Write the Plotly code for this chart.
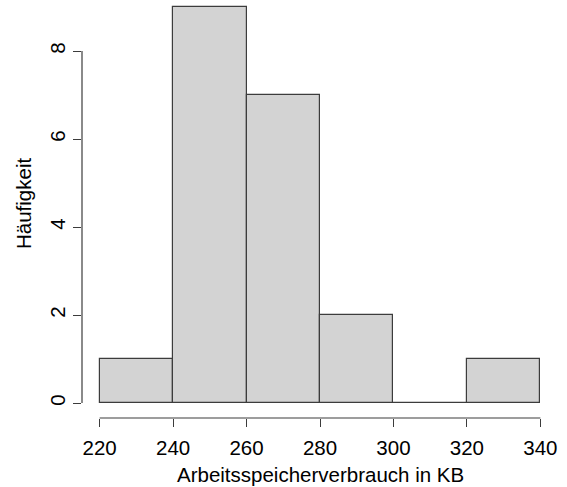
import plotly.graph_objects as go

bin_starts = [220, 240, 260, 280, 300, 320]
bin_width = 20
counts = [1, 9, 7, 2, 0, 1]
x_ticks = [220, 240, 260, 280, 300, 320, 340]
y_ticks = [0, 2, 4, 6, 8]
x_title = "Arbeitsspeicherverbrauch in KB"
y_title = "Häufigkeit"

centers = [b + bin_width / 2 for b in bin_starts]

FONT = "Liberation Sans, Arial, sans-serif"
FS = 20.5
LINE = "#3c3c3c"
L, R = 82, 9
PW = 567 - L - R

fig = go.Figure()
fig.add_trace(go.Bar(
    x=centers, y=counts, width=[bin_width] * len(counts),
    marker=dict(color="#D3D3D3", line=dict(color=LINE, width=1.2)),
    hoverinfo="skip",
))

fig.update_layout(
    width=567, height=487,
    margin=dict(l=L, r=R, t=0, b=69),
    plot_bgcolor="white", paper_bgcolor="white",
    showlegend=False,
    bargap=0,
    font=dict(family=FONT, size=FS, color="black"),
    xaxis=dict(
        range=[215.2, 344.8], automargin=False,
        tickmode="array", tickvals=x_ticks, ticktext=[str(v) for v in x_ticks],
        ticks="outside", ticklen=8, tickcolor=LINE, tickwidth=1.2,
        showline=False, showgrid=False, zeroline=False,
        ticklabelstandoff=3,
    ),
    yaxis=dict(
        range=[-0.341, 9.159], automargin=False,
        tickmode="array", tickvals=y_ticks, ticktext=[str(v) for v in y_ticks],
        tickangle=-90,
        ticks="outside", ticklen=8, tickcolor=LINE, tickwidth=1.2,
        showline=False, showgrid=False, zeroline=False,
    ),
    shapes=[
        dict(type="line", xref="x", yref="paper", x0=x_ticks[0], x1=x_ticks[-1], y0=0, y1=0,
             line=dict(color=LINE, width=1.2)),
        dict(type="line", xref="paper", yref="y", x0=0, x1=0, y0=y_ticks[0], y1=y_ticks[-1],
             line=dict(color=LINE, width=1.2)),
    ],
    annotations=[
        dict(text=x_title, xref="paper", yref="paper", x=(320 - L) / PW, y=(418 - 475) / 418,
             xanchor="center", yanchor="middle", showarrow=False, font=dict(size=FS)),
        dict(text=y_title, xref="paper", yref="paper", x=(23 - L) / PW, y=(418 - 204) / 418,
             xanchor="center", yanchor="middle", textangle=-90, showarrow=False, font=dict(size=FS)),
    ],
)

fig.write_html("out.html", config={"displayModeBar": False},
               post_script="document.body.style.margin='0px';")
